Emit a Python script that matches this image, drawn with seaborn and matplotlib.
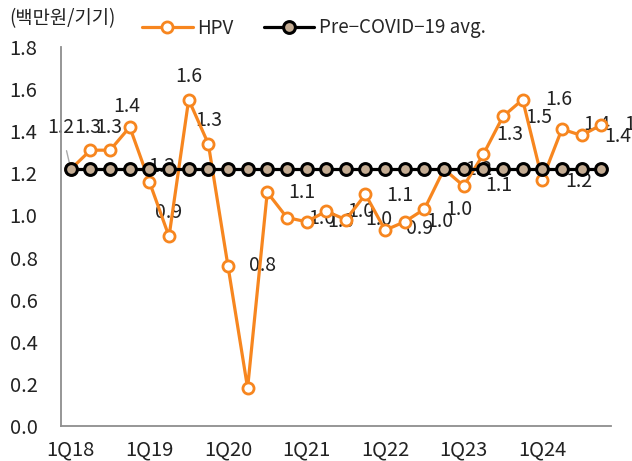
import numpy as np
import pandas as pd
import matplotlib
matplotlib.use("Agg")
import matplotlib.pyplot as plt
import seaborn as sns

# quarters shown on the x axis
quarters = ["1Q18", "2Q18", "3Q18", "4Q18", "1Q19", "2Q19", "3Q19", "4Q19",
            "1Q20", "2Q20", "3Q20", "4Q20", "1Q21", "2Q21", "3Q21", "4Q21",
            "1Q22", "2Q22", "3Q22", "4Q22", "1Q23", "2Q23", "3Q23", "4Q23",
            "1Q24", "2Q24", "3Q24", "4Q24"]
# HPV revenue per device (million KRW)
hpv = [1.22, 1.31, 1.31, 1.42, 1.16, 0.90, 1.55, 1.34,
       0.76, 0.18, 1.11, 0.99, 0.97, 1.02, 0.98, 1.10,
       0.93, 0.97, 1.03, 1.22, 1.14, 1.29, 1.47, 1.55,
       1.17, 1.41, 1.38, 1.43]
pre_covid_avg = 1.22

ORANGE = "#F7861F"
TAN = "#C4AC93"
GREY = "#8E8E8E"
TXT = "#222222"

# label offsets in points (None = no label)
label_offsets = [(-7, 30), (-2, 16), (-1, 16), (-2, 15), (9, 11), (0, 17), (0, 17), (0, 17),
                 (25, 0), None, (25, 0), (25, -1), (25, 0), (25, 0), (24, 0), (25, -1),
                 (25, 1), (25, 0), (25, 0), (25, 0), (25, 0), (19, 14), (26, -1), (26, 0),
                 (26, -1), (25, 3), (26, -1), (26, 0)]

sns.set_style("white")
plt.rcParams["font.family"] = ["Noto Sans CJK KR", "DejaVu Sans"]
FS_TICK = 14.5
FS_LAB = 14
FS_LEG = 13.5

df = pd.DataFrame({"quarter": quarters, "value": hpv})
df_avg = pd.DataFrame({"quarter": quarters, "value": [pre_covid_avg] * len(quarters)})

fig = plt.figure(figsize=(6.32, 4.61), dpi=100)
ax = fig.add_axes([61 / 632, 1 - 426 / 461, (611 - 61) / 632, (426 - 47) / 461])

sns.lineplot(data=df, x="quarter", y="value", ax=ax, sort=False, color=ORANGE,
             lw=2.3, marker="o", ms=8, mfc="white", mec=ORANGE, mew=2.0,
             label="HPV", zorder=3)
sns.lineplot(data=df_avg, x="quarter", y="value", ax=ax, sort=False, color="black",
             lw=2.3, marker="o", ms=8.5, mfc=TAN, mec="black", mew=2.2,
             label="Pre\u2212COVID\u221219 avg.", zorder=4)

for i, (v, off) in enumerate(zip(hpv, label_offsets)):
    if off is None:
        continue
    arrow = None
    if i == 0:
        arrow = dict(arrowstyle="-", color="#AAAAAA", lw=1, shrinkA=7, shrinkB=0)
    ax.annotate(f"{v:.1f}", xy=(i, v), xytext=off, textcoords="offset points",
                ha="center", va="center", fontsize=FS_LAB, color=TXT, zorder=2,
                annotation_clip=False, arrowprops=arrow)

ax.set_xlim(-0.5, len(quarters) - 0.5)
ax.set_ylim(0, 1.8)
ax.set_xticks(range(0, len(quarters), 4))
ax.set_xticklabels(quarters[::4], fontsize=FS_TICK)
ax.set_xticks(np.arange(-0.5, len(quarters), 1), minor=True)
yt = np.arange(0, 1.81, 0.2)
ax.set_yticks(yt)
ax.set_yticklabels([f"{t:.1f}" for t in yt], fontsize=FS_TICK)
ax.tick_params(axis="x", which="major", length=0, pad=10, colors=TXT)
ax.tick_params(axis="x", which="minor", direction="in", length=4.5, width=1.1, color=GREY)
ax.tick_params(axis="y", direction="in", length=4.5, width=1.1, color=GREY,
               pad=17, labelcolor=TXT)
ax.set_xlabel("")
ax.set_ylabel("")
for s in ["top", "right"]:
    ax.spines[s].set_visible(False)
for s in ["left", "bottom"]:
    ax.spines[s].set_color(GREY)
    ax.spines[s].set_linewidth(1.3)

handles, labels = ax.get_legend_handles_labels()
ax.get_legend().remove()
fig.legend(handles, labels, loc="center left", bbox_to_anchor=(142 / 632, 1 - 28 / 461),
           ncol=2, frameon=False, fontsize=FS_LEG, handlelength=2.7, handletextpad=0.25,
           columnspacing=1.6, borderpad=0, borderaxespad=0)

fig.text(9 / 632, 1 - 19 / 461, "(백만원/기기)", fontsize=13.5, va="center", ha="left",
         color=TXT)

fig.savefig("out.png", dpi=100)
